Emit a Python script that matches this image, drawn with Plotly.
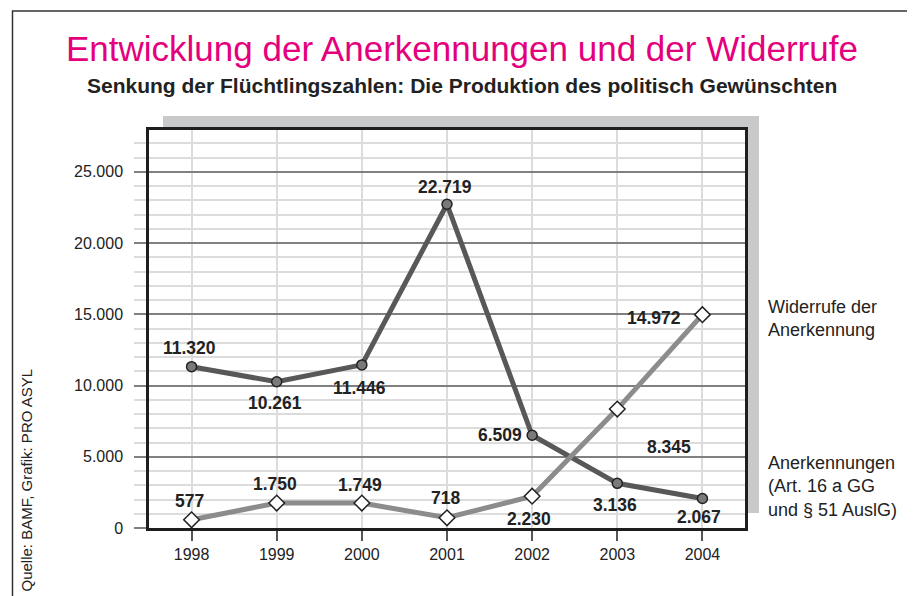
import plotly.graph_objects as go

years = ["1998", "1999", "2000", "2001", "2002", "2003", "2004"]
anerkennungen = [11320, 10261, 11446, 22719, 6509, 3136, 2067]
widerrufe = [577, 1750, 1749, 718, 2230, 8345, 14972]
y_ticks = [0, 5000, 10000, 15000, 20000, 25000]

# label offsets (pixels) relative to each point
off_an = [(-2, 19), (-2, -21), (-2, -23), (-2, 17), (-32, 0), (-2, -22), (-3, -18)]
off_wi = [(-2, 19), (-2, 19), (-2, 18), (-2, 20), (-3, -23), (52, -38), (-48, -3)]

# browser body margin offset
OFF = 8
W, H = 915 - OFF, 596 - OFF
L, R, T, B = 149 - OFF, 745 - OFF, 130 - OFF, 528 - OFF


def px(x):
    return (x - OFF - L) / (R - L)


def py(y):
    return (B - (y - OFF)) / (B - T)


def fmt(v):
    return f"{v:,}".replace(",", ".")


SANS = "Liberation Sans, Arial, sans-serif"

fig = go.Figure()
fig.add_trace(go.Scatter(
    x=list(range(len(years))), y=anerkennungen, mode="lines+markers", name="Anerkennungen",
    line=dict(color="#585858", width=5),
    marker=dict(symbol="circle", size=10, color="#7a7a7a", line=dict(color="#222", width=1.5)),
    cliponaxis=False,
))
fig.add_trace(go.Scatter(
    x=list(range(len(years))), y=widerrufe, mode="lines+markers", name="Widerrufe",
    line=dict(color="#8c8c8c", width=5),
    marker=dict(symbol="diamond", size=12, color="white", line=dict(color="#222", width=1.5)),
    cliponaxis=False,
))

ann = []
for i in range(len(years)):
    for vals, offs in ((anerkennungen, off_an), (widerrufe, off_wi)):
        ann.append(dict(x=i, y=vals[i], xref="x", yref="y", text="<b>" + fmt(vals[i]) + "</b>",
                        showarrow=False, xshift=offs[i][0], yshift=offs[i][1],
                        font=dict(family=SANS, size=17.5, color="#222"),
                        xanchor="center", yanchor="middle"))

ann += [
    dict(x=px(462), y=py(48), xref="paper", yref="paper",
         text="Entwicklung der Anerkennungen und der Widerrufe", showarrow=False,
         font=dict(family=SANS, size=35, color="#e4007c"), xanchor="center", yanchor="middle"),
    dict(x=px(462), y=py(86), xref="paper", yref="paper",
         text="<b>Senkung der Flüchtlingszahlen: Die Produktion des politisch Gewünschten</b>",
         showarrow=False, font=dict(family=SANS, size=21, color="#222"),
         xanchor="center", yanchor="middle"),
    dict(x=px(766), y=py(318), xref="paper", yref="paper",
         text="Widerrufe der<br>Anerkennung", showarrow=False, align="left",
         font=dict(family=SANS, size=18, color="#222"),
         xanchor="left", yanchor="middle"),
    dict(x=px(766), y=py(486), xref="paper", yref="paper",
         text="Anerkennungen<br>(Art. 16 a GG<br>und § 51 AuslG)", showarrow=False, align="left",
         font=dict(family=SANS, size=18, color="#222"),
         xanchor="left", yanchor="middle"),
    dict(x=px(26), y=py(594), xref="paper", yref="paper",
         text="Quelle: BAMF, Grafik: PRO ASYL", showarrow=False, textangle=-90,
         font=dict(family=SANS, size=15, color="#222"),
         xanchor="center", yanchor="bottom"),
]

shapes = [
    dict(type="rect", xref="paper", yref="paper", x0=px(163), x1=px(759), y0=py(513), y1=py(116),
         fillcolor="#c8c9ca", line=dict(width=0), layer="below"),
    dict(type="rect", xref="paper", yref="paper", x0=0, x1=1, y0=0, y1=1,
         fillcolor="white", line=dict(width=0), layer="below"),
    dict(type="rect", xref="paper", yref="paper", x0=px(12.5), x1=px(909.5), y0=py(640), y1=py(11),
         fillcolor="rgba(0,0,0,0)", line=dict(color="#333", width=1.5)),
]

fig.update_layout(
    width=W, height=H,
    margin=dict(l=L, r=W - R, t=T, b=H - B),
    paper_bgcolor="white", plot_bgcolor="white",
    showlegend=False,
    separators=",.",
    annotations=ann, shapes=shapes,
)
fig.update_xaxes(
    range=[-0.5, 6.5], tickvals=list(range(len(years))), ticktext=years,
    showline=True, mirror=True, linecolor="#1e1e1e", linewidth=2.5,
    showgrid=True, gridcolor="#dcdcdc", gridwidth=1.5, zeroline=False,
    ticks="outside", ticklen=10, tickcolor="#555", tickwidth=1.5,
    tickfont=dict(family=SANS, size=16, color="#222"),
    ticklabelstandoff=0,
)
fig.update_yaxes(
    range=[0, 27930], tickvals=y_ticks, tickformat=",d",
    showline=True, mirror=True, linecolor="#1e1e1e", linewidth=2.5,
    showgrid=True, gridcolor="#808080", gridwidth=1.5, zeroline=False,
    ticks="outside", ticklen=12, tickcolor="#808080", tickwidth=1.5,
    tickfont=dict(family=SANS, size=16, color="#222"),
    ticklabelstandoff=8,
    minor=dict(dtick=1000, showgrid=True, gridcolor="#dcdcdc", gridwidth=1.5,
               ticks="outside", ticklen=12, tickcolor="#dcdcdc", tickwidth=1.5),
)

fig.write_html("out.html")
